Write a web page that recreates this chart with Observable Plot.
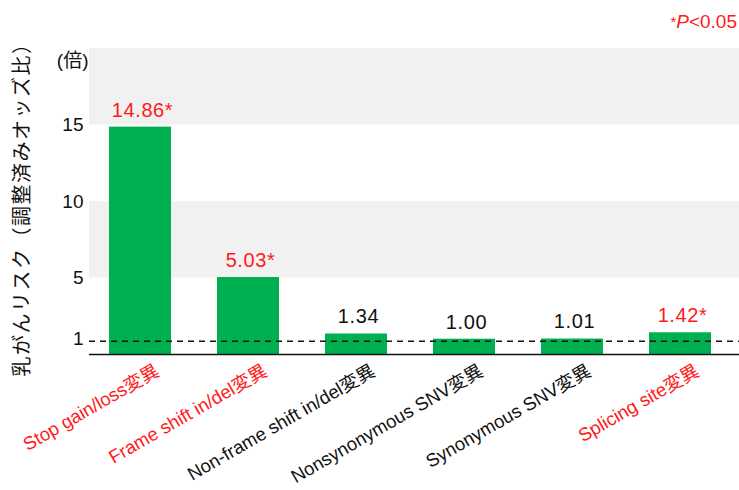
<!DOCTYPE html>
<html>
<head>
<meta charset="utf-8">
<script src="https://cdn.jsdelivr.net/npm/d3@7"></script>
<script src="https://cdn.jsdelivr.net/npm/@observablehq/plot@0.6"></script>
<style>
  html, body { margin: 0; padding: 0; background: #fff; }
</style>
</head>
<body>
<div id="chart"></div>
<script>
const categories = ["Stop gain/loss変異", "Frame shift in/del変異", "Non-frame shift in/del変異", "Nonsynonymous SNV変異", "Synonymous SNV変異", "Splicing site変異"];
const values = [14.86, 5.03, 1.34, 1.00, 1.01, 1.42];
const valueLabels = ["14.86*", "5.03*", "1.34", "1.00", "1.01", "1.42*"];
const significant = [true, true, false, false, false, true];
const yTicks = [1, 5, 10, 15];
const bandRanges = [[5, 10], [15, 20]];
const referenceLine = [1];
const yTitle = "乳がんリスク（調整済みオッズ比）";
const unitLabel = "(倍)";

const FONT = "'Liberation Sans', 'Noto Sans CJK JP', sans-serif";
const RED = "#ff1a1a";
const GREEN = "#00b050";

const data = categories.map((c, i) => ({
  cat: c, value: values[i], label: valueLabels[i],
  color: significant[i] ? RED : "#111"
}));
const bands = bandRanges.map(([a, b]) => ({y1: a, y2: b}));

const chart = Plot.plot({
  width: 739,
  height: 490,
  marginLeft: 89,
  marginRight: 0,
  marginTop: 48,
  marginBottom: 136,
  style: {fontFamily: FONT, fontSize: "18px", background: "#fff", color: "#111"},
  x: {domain: categories, paddingInner: 0.426, paddingOuter: 0.22, align: 0.42, axis: null},
  y: {domain: [0, 20], axis: null},
  marks: [
    Plot.rect(bands, {y1: "y1", y2: "y2", fill: "#f1f1f1"}),
    Plot.barY(data, {x: "cat", y: "value", fill: GREEN}),
    Plot.ruleY(referenceLine, {stroke: "#111", strokeWidth: 1.5, strokeDasharray: "6,5", dy: 2}),
    Plot.ruleY([0], {stroke: "#111", strokeWidth: 1.5}),
    Plot.axisY({ticks: yTicks, tickSize: 0, tickPadding: 6, fontSize: 19, label: null, fill: "#111"}),
    Plot.text(data, {x: "cat", y: "value", text: "label", dy: -17, dx: 2, fill: "color", fontSize: 20, className: "vlabel"}),
    Plot.text(data, {x: "cat", y: () => 0, text: "cat", fill: "color", fontSize: 18.5,
      rotate: -30, textAnchor: "end", dx: 17, dy: 15, className: "xlabel"}),
    Plot.text([yTitle], {frameAnchor: "left", textAnchor: "middle", dx: -67, dy: 3, rotate: -90, fontSize: 20, fill: "#111", className: "ytitle"}),
    Plot.text([unitLabel], {frameAnchor: "top-left", textAnchor: "end", dx: -1, dy: 5, fontSize: 19, fill: "#111"})
  ]
});

const svg = d3.select(chart);
svg.selectAll(".ytitle text").style("letter-spacing", "1.5px");
svg.selectAll(".vlabel text").style("letter-spacing", "0.6px");

const note = svg.append("text")
  .attr("x", 737).attr("y", 28)
  .attr("text-anchor", "end")
  .attr("fill", RED)
  .style("font-family", FONT)
  .style("font-size", "19px");
note.append("tspan").text("*").attr("font-size", "15px").attr("dy", "-1");
note.append("tspan").text("P").attr("font-style", "italic").attr("dy", "1");
note.append("tspan").text("<0.05");

document.getElementById("chart").appendChild(chart);
</script>
</body>
</html>
